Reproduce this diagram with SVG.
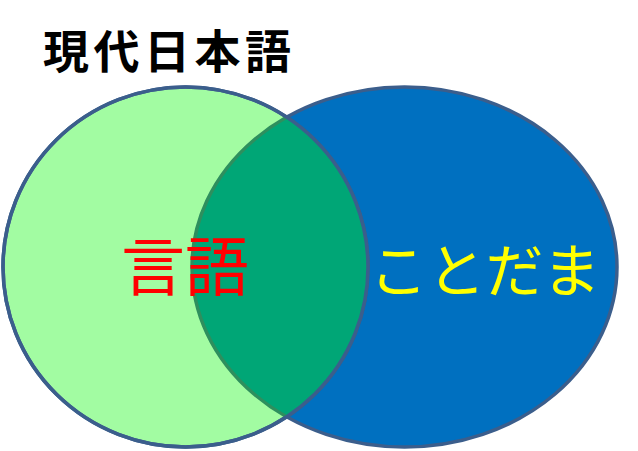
<svg xmlns="http://www.w3.org/2000/svg" width="638" height="451" viewBox="0 0 638 451">
<style>
.ring{stroke:#3B5E8C;stroke-width:3.5}
.cjk{font-family:"Noto Sans CJK JP","Noto Sans CJK SC",sans-serif}
</style>
<defs>
<clipPath id="clipGreen"><ellipse cx="185.5" cy="267" rx="182.5" ry="180"/></clipPath>
</defs>
<rect width="638" height="451" fill="#ffffff"/>
<g id="kotodama-set">
<ellipse class="ring" cx="404.5" cy="267" rx="212.5" ry="180" fill="#0070C0"/>
</g>
<g id="gengo-set">
<ellipse class="ring" cx="185.5" cy="267" rx="182.5" ry="180" fill="#A2FCA2"/>
</g>
<g id="overlap">
<ellipse cx="404.5" cy="267" rx="212.5" ry="180" fill="#00A676" clip-path="url(#clipGreen)"/>
<ellipse cx="404.5" cy="267" rx="212.5" ry="180" fill="none" stroke="#2E8F5E" stroke-width="3.5" clip-path="url(#clipGreen)"/>
<ellipse class="ring" cx="185.5" cy="267" rx="182.5" ry="180" fill="none"/>
</g>
<g id="title"><text class="cjk" x="43" y="68" font-size="46" font-weight="bold" letter-spacing="4.5" fill="#000000">現代日本語</text></g>
<g id="label-gengo"><text class="cjk" x="185" y="290" font-size="64" text-anchor="middle" fill="#FF0000">言語</text></g>
<g id="label-kotodama"><text class="cjk" x="485" y="292" font-size="58" text-anchor="middle" fill="#FFFF00">ことだま</text></g>
</svg>
